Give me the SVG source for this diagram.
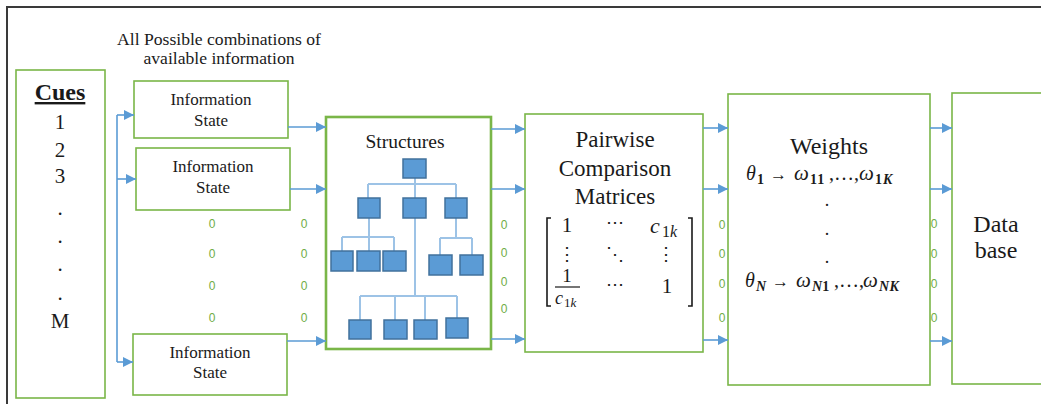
<svg xmlns="http://www.w3.org/2000/svg" width="1041" height="404" viewBox="0 0 1041 404">
<defs>
<marker id="arr" markerUnits="userSpaceOnUse" markerWidth="11" markerHeight="11" refX="10" refY="5" orient="auto">
<path d="M0,0 L10,5 L0,10 z" fill="#5B9BD5"/>
</marker>
<style>
.box{fill:#fff;stroke:#7AB648;stroke-width:1.6}
.sbox{fill:#fff;stroke:#7AB648;stroke-width:2.6}
.t{font-family:'Liberation Serif','Times New Roman',serif;fill:#1a1a1a;text-anchor:middle}
.m{font-family:'Liberation Serif','DejaVu Serif',serif;fill:#1a1a1a}
.z{font-family:'Liberation Sans',Arial,sans-serif;font-size:12px;fill:#70AD47;text-anchor:middle}
.c{fill:none;stroke:#5B9BD5;stroke-width:1.6;marker-end:url(#arr)}
.bus{fill:none;stroke:#5B9BD5;stroke-width:1.6}
.tn{fill:#5B9BD5;stroke:#41719C;stroke-width:1.5}
.tl{fill:none;stroke:#9DC3E6;stroke-width:2}
.sb{font-size:14px;font-weight:bold}
</style>
</defs>
<rect width="1041" height="404" fill="#fff"/>
<path d="M7,404 V7 H1041" fill="none" stroke="#3a3a3a" stroke-width="2"/>

<g id="header">
<text class="t" x="219" y="45" font-size="17.6">All Possible combinations of</text>
<text class="t" x="219" y="64" font-size="17.6">available information</text>
</g>

<g id="cues">
<rect class="box" x="16" y="70" width="89" height="328"/>
<text class="t" x="60" y="100" font-size="24" font-weight="bold" text-decoration="underline">Cues</text>
<text class="t" x="60" y="129" font-size="21">1</text>
<text class="t" x="60" y="157" font-size="21">2</text>
<text class="t" x="60" y="183" font-size="21">3</text>
<text class="t" x="60" y="215" font-size="21">.</text>
<text class="t" x="60" y="243" font-size="21">.</text>
<text class="t" x="60" y="271" font-size="21">.</text>
<text class="t" x="60" y="300" font-size="21">.</text>
<text class="t" x="60" y="328" font-size="21">M</text>
</g>

<g id="info1">
<rect class="box" x="134" y="81" width="154" height="57"/>
<text class="t" x="211" y="105" font-size="17">Information</text>
<text class="t" x="211" y="126" font-size="17">State</text>
</g>
<g id="info2">
<rect class="box" x="136" y="148" width="154" height="62"/>
<text class="t" x="213" y="172" font-size="17">Information</text>
<text class="t" x="213" y="193" font-size="17">State</text>
</g>
<g id="info3">
<rect class="box" x="133" y="334" width="154" height="61"/>
<text class="t" x="210" y="358" font-size="17">Information</text>
<text class="t" x="210" y="378" font-size="17">State</text>
</g>

<g id="structures">
<rect class="sbox" x="326" y="117" width="165" height="232"/>
<text class="t" x="405" y="148" font-size="19.5">Structures</text>
<path class="tl" d="M415,178 V184 M368,184 H456 M368,184 V198 M415,184 V198 M456,184 V198"/>
<path class="tl" d="M369,218 V237 M342,237 H394 M342,237 V251 M369,237 V251 M394,237 V251"/>
<path class="tl" d="M456,218 V238 M440,238 H472 M440,238 V255 M472,238 V255"/>
<path class="tl" d="M415,218 V296 M360,296 H457 M360,296 V320 M395,296 V320 M425,296 V320 M457,296 V318"/>
<rect class="tn" x="403" y="159" width="23" height="19"/>
<rect class="tn" x="358" y="198" width="22" height="20"/>
<rect class="tn" x="403" y="198" width="23" height="20"/>
<rect class="tn" x="445" y="198" width="22" height="20"/>
<rect class="tn" x="331" y="251" width="22" height="20"/>
<rect class="tn" x="357" y="251" width="23" height="20"/>
<rect class="tn" x="383" y="251" width="23" height="20"/>
<rect class="tn" x="429" y="255" width="23" height="20"/>
<rect class="tn" x="460" y="255" width="23" height="20"/>
<rect class="tn" x="349" y="320" width="22" height="19"/>
<rect class="tn" x="384" y="320" width="23" height="19"/>
<rect class="tn" x="414" y="320" width="23" height="19"/>
<rect class="tn" x="446" y="318" width="22" height="20"/>
</g>

<g id="pcm">
<rect class="box" x="525" y="114" width="178" height="238"/>
<text class="t" x="615" y="147" font-size="23">Pairwise</text>
<text class="t" x="615" y="176" font-size="23">Comparison</text>
<text class="t" x="615" y="204" font-size="23">Matrices</text>
<path d="M551,218 H547 V306 H551 M688,218 H692 V306 H688" fill="none" stroke="#1a1a1a" stroke-width="1.6"/>
<text class="m" x="567" y="232" font-size="21" text-anchor="middle">1</text>
<text class="m" x="615" y="228" font-size="18" text-anchor="middle">⋯</text>
<text class="m" font-size="22"><tspan x="650" y="233" font-style="italic">c</tspan><tspan x="662" y="237" font-size="16">1</tspan><tspan font-size="16" font-style="italic">k</tspan></text>
<text class="m" x="567" y="260" font-size="18" text-anchor="middle">⋮</text>
<text class="m" x="615" y="260" font-size="18" text-anchor="middle">⋱</text>
<text class="m" x="666" y="260" font-size="18" text-anchor="middle">⋮</text>
<text class="m" x="567" y="282" font-size="19" text-anchor="middle">1</text>
<line x1="555" y1="287" x2="580" y2="287" stroke="#1a1a1a" stroke-width="1.2"/>
<text class="m" font-size="18"><tspan x="555" y="304" font-style="italic">c</tspan><tspan x="564" y="307" font-size="13">1</tspan><tspan font-size="13" font-style="italic">k</tspan></text>
<text class="m" x="615" y="290" font-size="18" text-anchor="middle">⋯</text>
<text class="m" x="667" y="293" font-size="21" text-anchor="middle">1</text>
</g>

<g id="weights">
<rect class="box" x="728" y="94" width="202" height="291"/>
<text class="t" x="829" y="154" font-size="24">Weights</text>
<text class="m" font-size="20"><tspan x="746" y="180" font-style="italic">θ</tspan><tspan class="sb" x="757" y="184">1</tspan><tspan x="770" y="180" font-size="17">→</tspan><tspan x="794" y="180" font-style="italic" font-size="21">ω</tspan><tspan class="sb" x="810" y="184" letter-spacing="1">11</tspan><tspan x="829" y="180">,…,</tspan><tspan x="859" y="180" font-style="italic" font-size="21">ω</tspan><tspan class="sb" x="875" y="184">1</tspan><tspan class="sb" x="883" y="184" font-style="italic">K</tspan></text>
<text class="t" x="827" y="206" font-size="18">.</text>
<text class="t" x="827" y="235" font-size="18">.</text>
<text class="t" x="827" y="263" font-size="18">.</text>
<text class="m" font-size="20"><tspan x="745" y="287" font-style="italic">θ</tspan><tspan class="sb" x="756" y="291" font-style="italic">N</tspan><tspan x="772" y="287" font-size="17">→</tspan><tspan x="796" y="287" font-style="italic" font-size="21">ω</tspan><tspan class="sb" x="812" y="291" font-style="italic">N</tspan><tspan class="sb">1</tspan><tspan x="834" y="287">,…,</tspan><tspan x="863" y="287" font-style="italic" font-size="21">ω</tspan><tspan class="sb" x="879" y="291" font-style="italic" letter-spacing="0.5">NK</tspan></text>
</g>

<g id="database">
<rect class="box" x="952" y="93" width="100" height="291"/>
<text class="t" x="996" y="232" font-size="24">Data</text>
<text class="t" x="996" y="258" font-size="24">base</text>
</g>

<g id="gaps">
<text class="z" x="212" y="228">0</text><text class="z" x="212" y="258">0</text><text class="z" x="212" y="290">0</text><text class="z" x="212" y="322">0</text>
<text class="z" x="304" y="228">0</text><text class="z" x="304" y="258">0</text><text class="z" x="304" y="290">0</text><text class="z" x="304" y="322">0</text>
<text class="z" x="504" y="229">0</text><text class="z" x="504" y="257">0</text><text class="z" x="504" y="286">0</text><text class="z" x="504" y="313">0</text>
<text class="z" x="722" y="229">0</text><text class="z" x="722" y="258">0</text><text class="z" x="722" y="288">0</text><text class="z" x="722" y="322">0</text>
<text class="z" x="934" y="228">0</text><text class="z" x="934" y="258">0</text><text class="z" x="934" y="288">0</text><text class="z" x="934" y="322">0</text>
</g>

<g id="connectors">
<path class="bus" d="M117,115 V362"/>
<path class="c" d="M117,115 H134"/>
<path class="c" d="M117,179 H136"/>
<path class="c" d="M117,362 H133"/>
<path class="c" d="M288,127 H326"/>
<path class="c" d="M290,189 H326"/>
<path class="c" d="M287,341 H326"/>
<path class="c" d="M491,129 H525"/>
<path class="c" d="M491,189 H525"/>
<path class="c" d="M491,339 H525"/>
<path class="c" d="M703,128 H728"/>
<path class="c" d="M703,189 H728"/>
<path class="c" d="M703,340 H728"/>
<path class="c" d="M930,128 H952"/>
<path class="c" d="M930,189 H952"/>
<path class="c" d="M930,341 H952"/>
</g>
</svg>
